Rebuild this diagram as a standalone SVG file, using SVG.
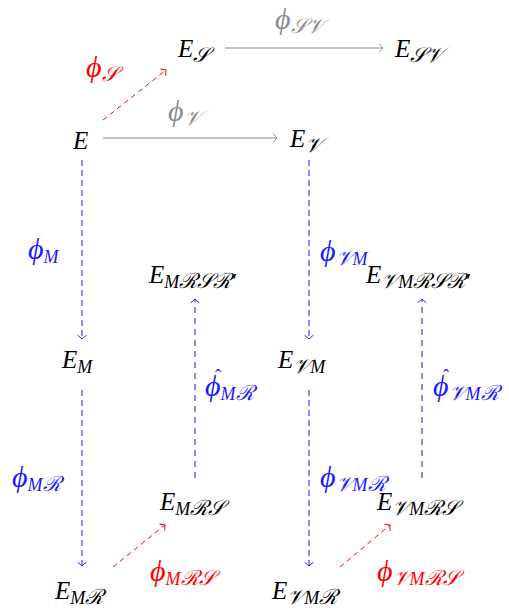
<svg xmlns="http://www.w3.org/2000/svg" width="509" height="612" viewBox="0 0 509 612">
<style>
text{font-family:"Liberation Serif","DejaVu Serif",serif;font-style:italic;font-size:25px}
.sub{font-size:18px}
.sc{font-size:21px}
.phi{font-size:30px}
.n{fill:#000}
.gray{fill:#8c8c8c}
.red{fill:#ff0000}
.blue{fill:#1a1aff}
.hat{font-style:normal;font-size:18px}
.c{fill:none}
.cg{stroke:#8c8c8c;stroke-width:1}
.cr{stroke:#ff0000;stroke-width:1;stroke-dasharray:5 4}
.cb{stroke:#5a5aff;stroke-width:1.4;stroke-dasharray:6 4}
.cd{stroke:#1515d0;stroke-width:1;stroke-dasharray:6 5}
.h{fill:none;stroke-width:1;stroke-linecap:round;stroke-dasharray:none}
</style>
<defs>
<marker id="ag" markerUnits="userSpaceOnUse" markerWidth="10" markerHeight="10" refX="0" refY="0" viewBox="-5 -5 10 10" orient="auto" overflow="visible"><path class="h" stroke="#8c8c8c" d="M-3.5,-4 Q-0.8,-0.8 0,0 Q-0.8,0.8 -3.5,4"/></marker>
<marker id="ar" markerUnits="userSpaceOnUse" markerWidth="10" markerHeight="10" refX="0" refY="0" viewBox="-5 -5 10 10" orient="auto" overflow="visible"><path class="h" stroke="#ff0000" d="M-3.5,-4 Q-0.8,-0.8 0,0 Q-0.8,0.8 -3.5,4"/></marker>
<marker id="ab" markerUnits="userSpaceOnUse" markerWidth="10" markerHeight="10" refX="0" refY="0" viewBox="-5 -5 10 10" orient="auto" overflow="visible"><path class="h" stroke="#1a1aff" d="M-3.5,-4 Q-0.8,-0.8 0,0 Q-0.8,0.8 -3.5,4"/></marker>
</defs>
<g id="connectors" class="c">
<line class="cg" x1="225" y1="48" x2="383" y2="48" marker-end="url(#ag)"/>
<line class="cg" x1="103" y1="138" x2="277" y2="138" marker-end="url(#ag)"/>
<line class="cr" x1="103" y1="120" x2="166" y2="70" marker-end="url(#ar)"/>
<line class="cb" x1="82" y1="160" x2="82" y2="339" marker-end="url(#ab)"/>
<line class="cb" x1="82" y1="390" x2="82" y2="566" marker-end="url(#ab)"/>
<line class="cb" x1="309" y1="160" x2="309" y2="339" marker-end="url(#ab)"/>
<line class="cb" x1="309" y1="390" x2="309" y2="566" marker-end="url(#ab)"/>
<line class="cd" x1="195" y1="478" x2="195" y2="299" marker-end="url(#ab)"/>
<line class="cd" x1="422" y1="478" x2="422" y2="299" marker-end="url(#ab)"/>
<line class="cr" x1="113" y1="567" x2="165" y2="525" marker-end="url(#ar)"/>
<line class="cr" x1="340" y1="567" x2="390" y2="525" marker-end="url(#ar)"/>
</g>
<g id="E"><text class="n" x="73" y="149">E</text></g>
<g id="E_S"><text class="n" x="178" y="57">E<tspan class="sc" dy="5">𝒮</tspan></text></g>
<g id="E_SV"><text class="n" x="395" y="57">E<tspan class="sc" dy="5">𝒮𝒱</tspan></text></g>
<g id="E_V"><text class="n" x="290" y="147">E<tspan class="sc" dy="5">𝒱</tspan></text></g>
<g id="E_M"><text class="n" x="62" y="368">E<tspan class="sub" dy="5">M</tspan></text></g>
<g id="E_MRSR"><text class="n" x="149" y="283">E<tspan class="sub" dy="5">M</tspan><tspan class="sc">ℛ𝒮ℛ′</tspan></text></g>
<g id="E_VMRSR"><text class="n" x="366" y="283">E<tspan class="sc" dy="5">𝒱</tspan><tspan class="sub">M</tspan><tspan class="sc">ℛ𝒮ℛ′</tspan></text></g>
<g id="E_VM"><text class="n" x="278" y="368">E<tspan class="sc" dy="5">𝒱</tspan><tspan class="sub">M</tspan></text></g>
<g id="E_MRS"><text class="n" x="160" y="510">E<tspan class="sub" dy="5">M</tspan><tspan class="sc">ℛ𝒮</tspan></text></g>
<g id="E_VMRS"><text class="n" x="377" y="510">E<tspan class="sc" dy="5">𝒱</tspan><tspan class="sub">M</tspan><tspan class="sc">ℛ𝒮</tspan></text></g>
<g id="E_MR"><text class="n" x="55" y="599">E<tspan class="sub" dy="5">M</tspan><tspan class="sc">ℛ</tspan></text></g>
<g id="E_VMR"><text class="n" x="272" y="599">E<tspan class="sc" dy="5">𝒱</tspan><tspan class="sub">M</tspan><tspan class="sc">ℛ</tspan></text></g>
<g id="labels">
<text class="gray" x="275" y="29"><tspan class="phi">ϕ</tspan><tspan class="sc" dy="4">𝒮𝒱</tspan></text>
<text class="red" x="86" y="77"><tspan class="phi">ϕ</tspan><tspan class="sc" dy="4">𝒮</tspan></text>
<text class="gray" x="168" y="121"><tspan class="phi">ϕ</tspan><tspan class="sc" dy="4">𝒱</tspan></text>
<text class="blue" x="28" y="259"><tspan class="phi">ϕ</tspan><tspan class="sub" dy="4">M</tspan></text>
<text class="blue" x="320" y="261"><tspan class="phi">ϕ</tspan><tspan class="sc" dy="4">𝒱</tspan><tspan class="sub">M</tspan></text>
<text class="blue hat" x="218" y="382" text-anchor="middle">ˆ</text>
<text class="blue" x="205" y="396"><tspan class="phi">ϕ</tspan><tspan class="sub" dy="4">M</tspan><tspan class="sc">ℛ</tspan></text>
<text class="blue hat" x="446" y="382" text-anchor="middle">ˆ</text>
<text class="blue" x="433" y="396"><tspan class="phi">ϕ</tspan><tspan class="sc" dy="4">𝒱</tspan><tspan class="sub">M</tspan><tspan class="sc">ℛ</tspan></text>
<text class="blue" x="12" y="487"><tspan class="phi">ϕ</tspan><tspan class="sub" dy="4">M</tspan><tspan class="sc">ℛ</tspan></text>
<text class="blue" x="320" y="487"><tspan class="phi">ϕ</tspan><tspan class="sc" dy="4">𝒱</tspan><tspan class="sub">M</tspan><tspan class="sc">ℛ</tspan></text>
<text class="red" x="150" y="581"><tspan class="phi">ϕ</tspan><tspan class="sub" dy="4">M</tspan><tspan class="sc">ℛ𝒮</tspan></text>
<text class="red" x="377" y="581"><tspan class="phi">ϕ</tspan><tspan class="sc" dy="4">𝒱</tspan><tspan class="sub">M</tspan><tspan class="sc">ℛ𝒮</tspan></text>
</g>
</svg>
